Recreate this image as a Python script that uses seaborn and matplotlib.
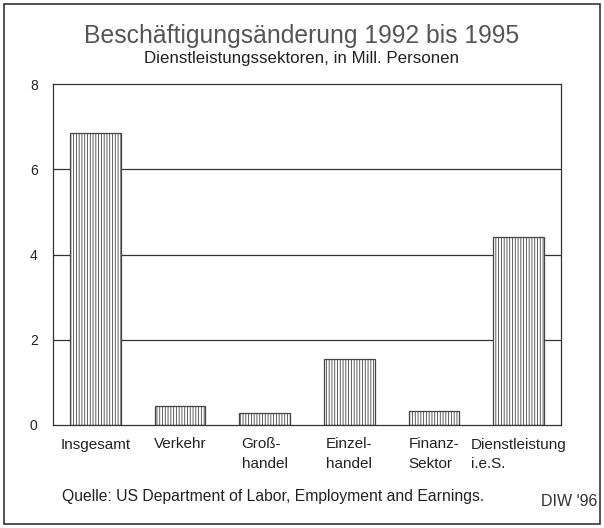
import matplotlib.pyplot as plt
import seaborn as sns
import pandas as pd
from matplotlib.patches import Rectangle

sectors = ["Insgesamt", "Verkehr", "Groß-\nhandel", "Einzel-\nhandel", "Finanz-\nSektor", "Dienstleistung\ni.e.S."]
change = [6.85, 0.45, 0.27, 1.55, 0.32, 4.42]
y_ticks = [0, 2, 4, 6, 8]

sns.set_style("white")
plt.rcParams["font.family"] = ["Liberation Sans", "DejaVu Sans"]
plt.rcParams["hatch.color"] = "#555555"
plt.rcParams["hatch.linewidth"] = 0.6

df = pd.DataFrame({"sector": sectors, "change": change})

fig = plt.figure(figsize=(6.04, 5.28), dpi=100)
ax = fig.add_axes([53 / 604, 1 - 425 / 528, (561 - 53) / 604, (425 - 84) / 528])

for v in [2, 4, 6]:
    ax.axhline(v, color="#333333", lw=0.9, zorder=0)

sns.barplot(data=df, x="sector", y="change", ax=ax, width=0.6,
            color="white", edgecolor="#444444", linewidth=0.9, zorder=2)
for p in ax.patches:
    p.set_hatch("||||||")

ax.set_xlim(-0.5, 5.5)
ax.set_ylim(0, 8)
ax.set_yticks(y_ticks)
ax.set_xlabel("")
ax.set_ylabel("")
for s in ax.spines.values():
    s.set_color("#333333")
    s.set_linewidth(0.9)
ax.tick_params(axis="y", direction="inout", length=10, width=0.8, labelsize=10, colors="#222222", pad=6)
ax.tick_params(axis="x", direction="out", length=5, width=0.6, labelsize=11, colors="#222222", pad=4)
ax.set_yticklabels([str(t) for t in y_ticks])
for lbl in ax.get_xticklabels():
    lbl.set_multialignment("left")
    lbl.set_linespacing(1.5)

fig.text(0.5, 1 - 36 / 528, "Beschäftigungsänderung 1992 bis 1995", ha="center", va="center",
         fontsize=17.8, color="#555555")
fig.text(0.5, 1 - 58 / 528, "Dienstleistungssektoren, in Mill. Personen", ha="center", va="center",
         fontsize=12.2, color="#222222")
fig.text(62 / 604, 1 - 497 / 528, "Quelle: US Department of Labor, Employment and Earnings.",
         ha="left", va="center", fontsize=11.3, color="#222222")
fig.text(597 / 604, 1 - 501 / 528, "DIW '96", ha="right", va="center", fontsize=11.5,
         color="#333333")

fig.patches.append(Rectangle((4 / 604, 4 / 528), 596 / 604, 520 / 528, transform=fig.transFigure,
                             fill=False, edgecolor="#333333", linewidth=1.2))

fig.savefig("out.png", dpi=100)
